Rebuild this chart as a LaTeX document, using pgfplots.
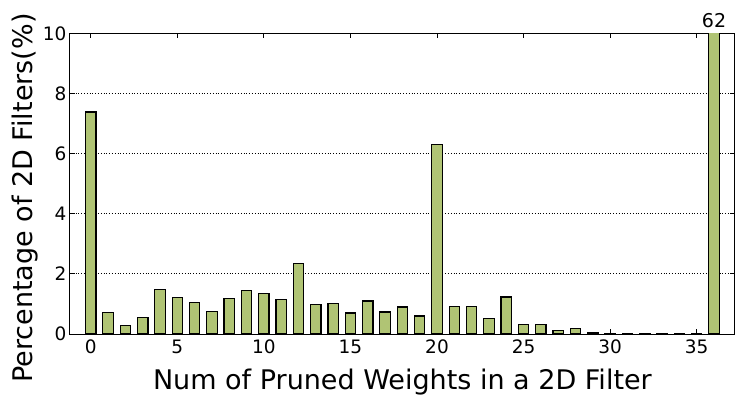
\documentclass[border=0pt]{standalone}
\usepackage{pgfplots}
\pgfplotsset{compat=1.18}
\usepackage{fontspec}
\setmainfont{DejaVu Sans}
\definecolor{barfill}{RGB}{176,196,116}
\begin{document}
\begin{tikzpicture}
\useasboundingbox (-70pt,-71pt) rectangle (675pt,334pt);
\begin{axis}[
  name=ax,
  at={(0,0)}, anchor=south west,
  scale only axis,
  width=664.7pt, height=300.7pt,
  xmin=-1.2, xmax=37.2, ymin=0, ymax=10,
  xtick={0,5,...,35}, ytick={0,2,...,10},
  tick align=inside,
  major tick length=5pt,
  xtick pos=both, ytick pos=both,
  ymajorgrids,
  grid style={black, line width=0.8pt, dotted},
  axis line style={black, line width=1pt},
  tick style={black, line width=0.8pt},
  /pgf/number format/assume math mode=true,
  ticklabel style={font=\fontsize{18.5}{21}\selectfont},
  xticklabel style={yshift=-2pt},
  label style={font=\fontsize{27}{31}\selectfont},
  xlabel={Num of Pruned Weights in a 2D Filter},
  ylabel={Percentage of 2D Filters(\%)},
  xlabel style={yshift=-9pt},
  ylabel style={at={(ticklabel cs:0.452)}, yshift=-2pt},
  clip=true,
]
\addplot[ybar, bar width=0.6, fill=barfill, draw=black, line width=1.2pt] coordinates {
(0,7.38) (1,0.71) (2,0.28) (3,0.56) (4,1.48) (5,1.22) (6,1.04) (7,0.74) (8,1.18) (9,1.44)
(10,1.36) (11,1.16) (12,2.34) (13,0.97) (14,1.02) (15,0.70) (16,1.10) (17,0.73) (18,0.90) (19,0.60)
(20,6.30) (21,0.91) (22,0.92) (23,0.52) (24,1.23) (25,0.31) (26,0.31) (27,0.12) (28,0.17) (29,0.04)
(30,0.03) (31,0.03) (32,0.02) (33,0.02) (34,0.02) (35,0.03) (36,62)
};
\coordinate (top36) at (axis cs:36,10);
\end{axis}
\node[anchor=south, font=\fontsize{19}{22}\selectfont, inner sep=0pt] at ([yshift=5pt]top36) {62};
\end{tikzpicture}
\end{document}
